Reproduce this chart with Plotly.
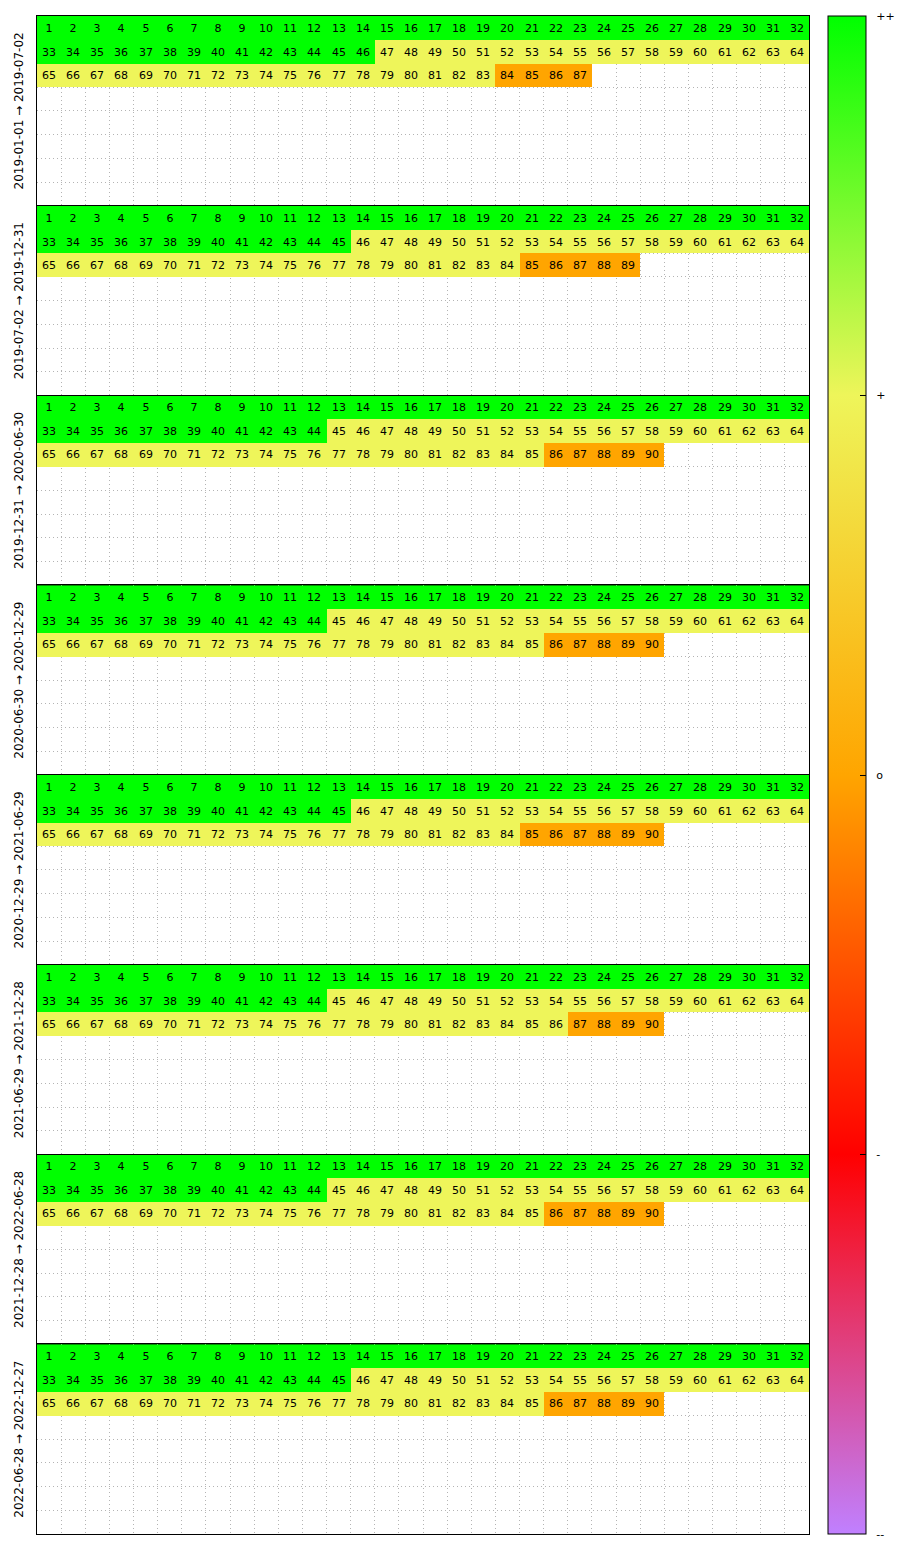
import numpy as np
import plotly.graph_objects as go
from plotly.subplots import make_subplots

# ---- data ----
panel_labels = [
    "2019-01-01 → 2019-07-02",
    "2019-07-02 → 2019-12-31",
    "2019-12-31 → 2020-06-30",
    "2020-06-30 → 2020-12-29",
    "2020-12-29 → 2021-06-29",
    "2021-06-29 → 2021-12-28",
    "2021-12-28 → 2022-06-28",
    "2022-06-28 → 2022-12-27",
]
green_days = [46, 45, 44, 44, 45, 44, 44, 45]    # level "++"
yellow_days = [37, 39, 41, 41, 39, 42, 41, 40]   # level "+"
orange_days = [4, 5, 5, 5, 6, 4, 5, 5]           # level "o"

level_values = [-2, -1, 0, 1, 2]
level_labels = ["--", "-", "o", "+", "++"]
level_colors = ["#c080ff", "#ff0000", "#ffa500", "#eef55a", "#00ff00"]

n_cols = 32
n_rows = 8
n_panels = len(panel_labels)

FONT = "DejaVu Sans"

fig = make_subplots(rows=n_panels, cols=1, vertical_spacing=0)

for p in range(n_panels):
    seq = [2] * green_days[p] + [1] * yellow_days[p] + [0] * orange_days[p]
    z = np.full((n_rows, n_cols), np.nan)
    text = [["" for _ in range(n_cols)] for _ in range(n_rows)]
    for i, v in enumerate(seq):
        r, c = divmod(i, n_cols)
        z[r, c] = v
        text[r][c] = str(i + 1)
    fig.add_trace(
        go.Heatmap(
            z=z,
            x=list(range(n_cols)),
            y=list(range(n_rows)),
            text=text,
            texttemplate="%{text}",
            textfont=dict(family=FONT, size=11, color="black"),
            coloraxis="coloraxis",
            hoverinfo="skip",
            showscale=False,
        ),
        row=p + 1, col=1,
    )
    bounds_x = [c - 0.5 for c in range(n_cols + 1)]
    bounds_y = [r - 0.5 for r in range(n_rows + 1)]
    fig.update_xaxes(
        range=[-0.5, n_cols - 0.5], tickvals=bounds_x, showticklabels=False, ticks="",
        showgrid=True, gridcolor="#b4b4b4", griddash="1px,3px", gridwidth=1,
        showline=True, mirror=True, linecolor="black", linewidth=1, zeroline=False,
        row=p + 1, col=1,
    )
    fig.update_yaxes(
        range=[n_rows - 0.5, -0.5], tickvals=bounds_y, showticklabels=False, ticks="",
        showgrid=True, gridcolor="#b4b4b4", griddash="1px,3px", gridwidth=1,
        showline=True, mirror=True, linecolor="black", linewidth=1, zeroline=False,
        title=dict(text=panel_labels[p], font=dict(family=FONT, size=12, color="black"), standoff=9),
        row=p + 1, col=1,
    )

colorscale = [[(v - level_values[0]) / (level_values[-1] - level_values[0]), col]
              for v, col in zip(level_values, level_colors)]

fig.update_layout(
    width=900, height=1550,
    margin=dict(l=37, r=91, t=16, b=16, autoexpand=False),
    paper_bgcolor="white", plot_bgcolor="white",
    font=dict(family=FONT, size=11, color="black"),
    coloraxis=dict(
        colorscale=colorscale, cmin=level_values[0], cmax=level_values[-1],
        colorbar=dict(
            x=(828 - 37) / 772, xanchor="left", xpad=0,
            y=0.5, yanchor="middle", len=1, lenmode="fraction", ypad=0,
            thickness=38, thicknessmode="pixels",
            outlinewidth=1, outlinecolor="black",
            tickvals=level_values,
            ticktext=["\u00a0\u00a0" + t for t in level_labels],
            ticks="inside", ticklen=6, tickcolor="black", tickwidth=1,
            tickfont=dict(family=FONT, size=11, color="black"),
        ),
    ),
    showlegend=False,
)

fig.write_html("out.html")
